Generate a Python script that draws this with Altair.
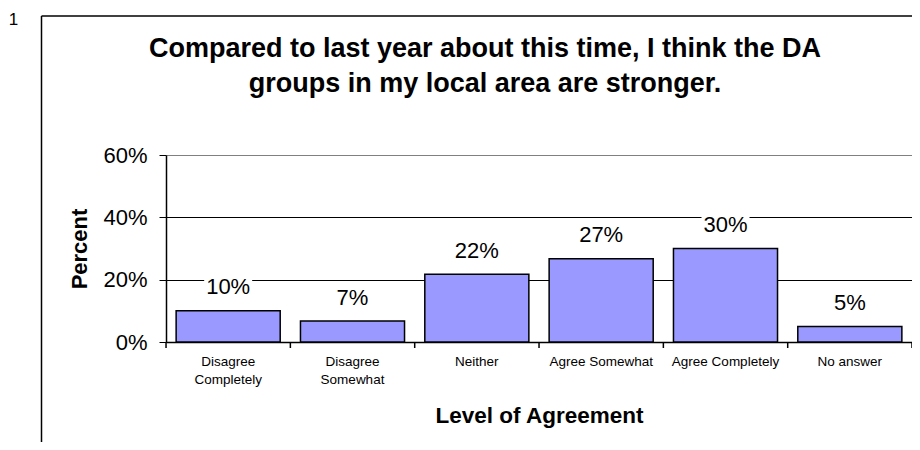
import altair as alt
import pandas as pd

categories = ["Disagree Completely", "Disagree Somewhat", "Neither",
              "Agree Somewhat", "Agree Completely", "No answer"]
values = [0.10, 0.067, 0.217, 0.267, 0.30, 0.05]
y_ticks = [0, 0.2, 0.4, 0.6]
title_line1 = ["Compared to last year about this time, I think the DA"]
title_line2 = ["groups in my local area are stronger."]
page_number = ["1"]

FONT = "Liberation Sans"
df = pd.DataFrame({"cat": categories, "val": values})

x_scale = alt.Scale(paddingInner=0.163, paddingOuter=0.0815)
x_enc = alt.X(
    "cat:N", sort=categories, scale=x_scale,
    axis=alt.Axis(
        title="Level of Agreement", labelAngle=0, labelFontSize=13.5,
        labelLineHeight=18, labelPadding=19, labelFont=FONT, labelColor="black",
        labelAlign="center",
        labelExpr="indexof(datum.label, 'Disagree') == 0 ? split(datum.label, ' ') : datum.label",
        ticks=False, domainColor="black", domainWidth=1.5, labelLimit=200,
        titleFont=FONT, titleFontSize=22.5, titleFontWeight="bold", titleColor="black",
        titleY=80, titleBaseline="alphabetic",
    ),
)
y_enc = alt.Y(
    "val:Q",
    scale=alt.Scale(domain=[0, 0.6], nice=False),
    axis=alt.Axis(
        title="Percent", format=".0%", values=y_ticks, grid=True,
        gridColor={"condition": {"test": "datum.value >= 0.6", "value": "#808080"}, "value": "black"},
        gridWidth=1, tickSize=7, tickColor="black", domainColor="black",
        domainWidth=1.5, labelFontSize=22, labelFont=FONT, labelPadding=12,
        labelColor="black",
        titleFont=FONT, titleFontSize=22, titleFontWeight="bold", titleColor="black",
        titleX=-80, titleY=93.5, titleAngle=270, titleAlign="center",
        titleBaseline="alphabetic",
    ),
)

base = alt.Chart(df)

label_bg = base.mark_tick(color="white", opacity=1, thickness=22, size=48, yOffset=-24).encode(
    x=alt.X("cat:N", sort=categories), y="val:Q")
bars = base.mark_bar(color="#9999FF", stroke="black", strokeWidth=1.5).encode(x=x_enc, y=y_enc)
labels = base.mark_text(font=FONT, fontSize=22, baseline="alphabetic", dy=-16.5, color="black").encode(
    x=alt.X("cat:N", sort=categories), y="val:Q", text=alt.Text("val:Q", format=".0%"))
# category-boundary ticks on the x axis (Excel style, between the bars)
band_ticks = base.mark_rule(color="black", strokeWidth=1.5, xOffset=-10.1).encode(
    x=alt.X("cat:N", sort=categories, bandPosition=0), y=alt.value(187), y2=alt.value(193))

one = pd.DataFrame({"t": page_number})
end_tick = alt.Chart(one).mark_rule(color="black", strokeWidth=1.5).encode(
    x=alt.value(746), y=alt.value(187), y2=alt.value(193))
frame_top = alt.Chart(one).mark_rule(color="black", strokeWidth=1.5).encode(
    x=alt.value(-124.5), x2=alt.value(760), y=alt.value(-139))
frame_left = alt.Chart(one).mark_rule(color="black", strokeWidth=1.5).encode(
    x=alt.value(-124.5), y=alt.value(-139), y2=alt.value(300))
page_num = alt.Chart(one).mark_text(font=FONT, fontSize=17, baseline="alphabetic", align="center", color="black").encode(
    x=alt.value(-152.5), y=alt.value(-130), text="t:N")

title_style = dict(font=FONT, fontSize=27, fontWeight="bold", baseline="alphabetic",
                   align="center", color="black")
title1 = alt.Chart(pd.DataFrame({"line": title_line1})).mark_text(**title_style).encode(
    x=alt.value(319), y=alt.value(-98), text="line:N")
title2 = alt.Chart(pd.DataFrame({"line": title_line2})).mark_text(**title_style).encode(
    x=alt.value(319), y=alt.value(-63), text="line:N")

chart = alt.layer(label_bg, bars, labels, band_ticks, end_tick, frame_top, frame_left,
                  page_num, title1, title2).properties(
    width=746, height=187,
    autosize=alt.AutoSizeParams(type="none"),
    padding={"left": 158, "top": 147, "right": 0, "bottom": 100},
).configure_view(stroke="#808080", strokeWidth=2).configure(background="white")

chart.save("out.html", embed_options={"renderer": "svg", "actions": False})
